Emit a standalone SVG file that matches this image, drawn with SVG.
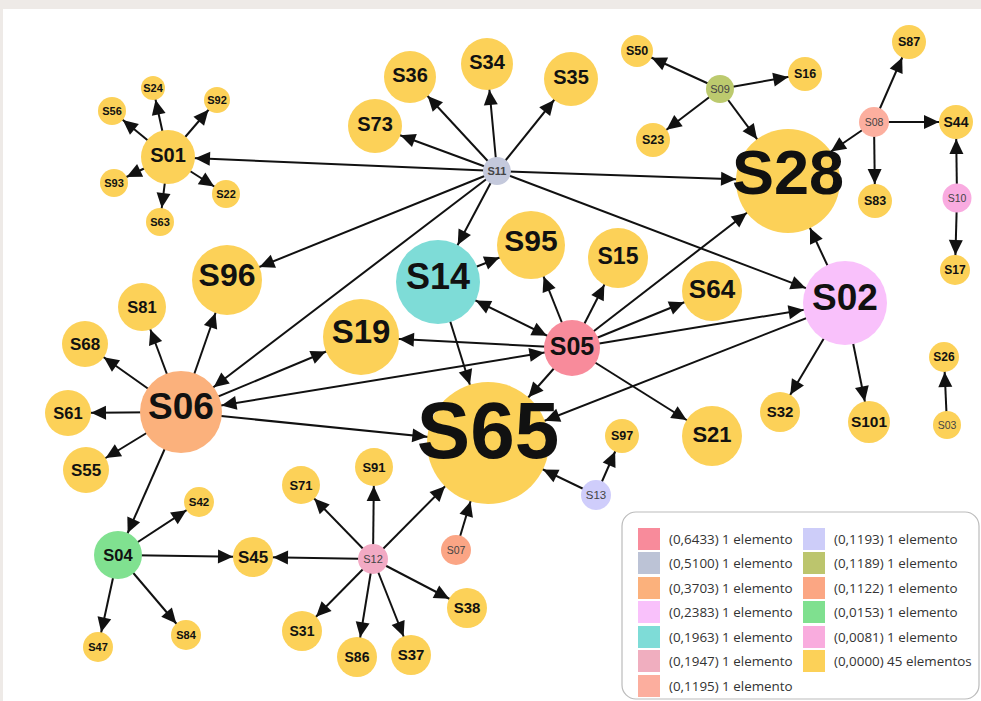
<svg xmlns="http://www.w3.org/2000/svg" width="981" height="701" viewBox="0 0 981 701">
<style>
.e{stroke:#111;stroke-width:2;fill:none}
.y{fill:#fcd158}
.t{font-family:"Liberation Sans",Arial,sans-serif;font-weight:bold;fill:#111;text-anchor:middle}
.s{font-family:"Liberation Sans",Arial,sans-serif;fill:#444;text-anchor:middle}
.lg{font-family:"Open Sans","Noto Sans",sans-serif;font-size:13.4px;fill:#333}
</style>
<defs>
<path id="ah" d="M0,-7L15,0L0,7z" fill="#111"/>
<marker id="a12" markerUnits="userSpaceOnUse" orient="auto-start-reverse" refX="27" refY="0" markerWidth="10" markerHeight="10" overflow="visible"><use href="#ah"/></marker>
<marker id="a13" markerUnits="userSpaceOnUse" orient="auto-start-reverse" refX="28" refY="0" markerWidth="10" markerHeight="10" overflow="visible"><use href="#ah"/></marker>
<marker id="a14" markerUnits="userSpaceOnUse" orient="auto-start-reverse" refX="29" refY="0" markerWidth="10" markerHeight="10" overflow="visible"><use href="#ah"/></marker>
<marker id="a15" markerUnits="userSpaceOnUse" orient="auto-start-reverse" refX="30" refY="0" markerWidth="10" markerHeight="10" overflow="visible"><use href="#ah"/></marker>
<marker id="a16" markerUnits="userSpaceOnUse" orient="auto-start-reverse" refX="31" refY="0" markerWidth="10" markerHeight="10" overflow="visible"><use href="#ah"/></marker>
<marker id="a17" markerUnits="userSpaceOnUse" orient="auto-start-reverse" refX="32" refY="0" markerWidth="10" markerHeight="10" overflow="visible"><use href="#ah"/></marker>
<marker id="a19" markerUnits="userSpaceOnUse" orient="auto-start-reverse" refX="34" refY="0" markerWidth="10" markerHeight="10" overflow="visible"><use href="#ah"/></marker>
<marker id="a20" markerUnits="userSpaceOnUse" orient="auto-start-reverse" refX="35" refY="0" markerWidth="10" markerHeight="10" overflow="visible"><use href="#ah"/></marker>
<marker id="a21" markerUnits="userSpaceOnUse" orient="auto-start-reverse" refX="36" refY="0" markerWidth="10" markerHeight="10" overflow="visible"><use href="#ah"/></marker>
<marker id="a23" markerUnits="userSpaceOnUse" orient="auto-start-reverse" refX="38" refY="0" markerWidth="10" markerHeight="10" overflow="visible"><use href="#ah"/></marker>
<marker id="a24" markerUnits="userSpaceOnUse" orient="auto-start-reverse" refX="39" refY="0" markerWidth="10" markerHeight="10" overflow="visible"><use href="#ah"/></marker>
<marker id="a26" markerUnits="userSpaceOnUse" orient="auto-start-reverse" refX="41" refY="0" markerWidth="10" markerHeight="10" overflow="visible"><use href="#ah"/></marker>
<marker id="a27" markerUnits="userSpaceOnUse" orient="auto-start-reverse" refX="42" refY="0" markerWidth="10" markerHeight="10" overflow="visible"><use href="#ah"/></marker>
<marker id="a28" markerUnits="userSpaceOnUse" orient="auto-start-reverse" refX="43" refY="0" markerWidth="10" markerHeight="10" overflow="visible"><use href="#ah"/></marker>
<marker id="a30" markerUnits="userSpaceOnUse" orient="auto-start-reverse" refX="45" refY="0" markerWidth="10" markerHeight="10" overflow="visible"><use href="#ah"/></marker>
<marker id="a34" markerUnits="userSpaceOnUse" orient="auto-start-reverse" refX="49" refY="0" markerWidth="10" markerHeight="10" overflow="visible"><use href="#ah"/></marker>
<marker id="a35" markerUnits="userSpaceOnUse" orient="auto-start-reverse" refX="50" refY="0" markerWidth="10" markerHeight="10" overflow="visible"><use href="#ah"/></marker>
<marker id="a38" markerUnits="userSpaceOnUse" orient="auto-start-reverse" refX="53" refY="0" markerWidth="10" markerHeight="10" overflow="visible"><use href="#ah"/></marker>
<marker id="a41" markerUnits="userSpaceOnUse" orient="auto-start-reverse" refX="56" refY="0" markerWidth="10" markerHeight="10" overflow="visible"><use href="#ah"/></marker>
<marker id="a42" markerUnits="userSpaceOnUse" orient="auto-start-reverse" refX="57" refY="0" markerWidth="10" markerHeight="10" overflow="visible"><use href="#ah"/></marker>
<marker id="a52" markerUnits="userSpaceOnUse" orient="auto-start-reverse" refX="67" refY="0" markerWidth="10" markerHeight="10" overflow="visible"><use href="#ah"/></marker>
<marker id="a61" markerUnits="userSpaceOnUse" orient="auto-start-reverse" refX="76" refY="0" markerWidth="10" markerHeight="10" overflow="visible"><use href="#ah"/></marker>
</defs>
<rect x="0" y="0" width="981" height="701" fill="#eeeae7"/>
<rect x="3" y="9" width="978" height="692" fill="#fff"/>
<g id="connectors">
<line class="e" x1="168" y1="157" x2="112" y2="111" marker-end="url(#a14)"/>
<line class="e" x1="168" y1="157" x2="153" y2="88" marker-end="url(#a12)"/>
<line class="e" x1="168" y1="157" x2="217" y2="100" marker-end="url(#a13)"/>
<line class="e" x1="168" y1="157" x2="114" y2="183" marker-end="url(#a14)"/>
<line class="e" x1="168" y1="157" x2="226" y2="194" marker-end="url(#a14)"/>
<line class="e" x1="168" y1="157" x2="160" y2="222" marker-end="url(#a14)"/>
<line class="e" x1="497" y1="171" x2="168" y2="157" marker-end="url(#a27)"/>
<line class="e" x1="497" y1="171" x2="375" y2="126" marker-end="url(#a27)"/>
<line class="e" x1="497" y1="171" x2="410" y2="77" marker-end="url(#a26)"/>
<line class="e" x1="497" y1="171" x2="487" y2="64" marker-end="url(#a26)"/>
<line class="e" x1="497" y1="171" x2="571" y2="79" marker-end="url(#a27)"/>
<line class="e" x1="497" y1="171" x2="788" y2="181" marker-end="url(#a52)"/>
<line class="e" x1="497" y1="171" x2="227" y2="280" marker-end="url(#a35)"/>
<line class="e" x1="497" y1="171" x2="181" y2="412" marker-end="url(#a41)"/>
<line class="e" x1="497" y1="171" x2="438" y2="282" marker-end="url(#a42)"/>
<line class="e" x1="497" y1="171" x2="845" y2="303" marker-end="url(#a42)"/>
<line class="e" x1="720" y1="89" x2="637" y2="51" marker-end="url(#a16)"/>
<line class="e" x1="720" y1="89" x2="805" y2="74" marker-end="url(#a17)"/>
<line class="e" x1="720" y1="89" x2="653" y2="140" marker-end="url(#a17)"/>
<line class="e" x1="720" y1="89" x2="788" y2="181" marker-end="url(#a52)"/>
<line class="e" x1="874" y1="122" x2="909" y2="42" marker-end="url(#a17)"/>
<line class="e" x1="874" y1="122" x2="956" y2="122" marker-end="url(#a17)"/>
<line class="e" x1="874" y1="122" x2="875" y2="201" marker-end="url(#a17)"/>
<line class="e" x1="874" y1="122" x2="788" y2="181" marker-end="url(#a52)"/>
<line class="e" x1="957" y1="198" x2="956" y2="122" marker-end="url(#a17)"/>
<line class="e" x1="957" y1="198" x2="955" y2="270" marker-end="url(#a15)"/>
<line class="e" x1="947" y1="425" x2="944" y2="357" marker-end="url(#a15)"/>
<line class="e" x1="845" y1="303" x2="788" y2="181" marker-end="url(#a52)"/>
<line class="e" x1="845" y1="303" x2="488" y2="443" marker-end="url(#a61)"/>
<line class="e" x1="845" y1="303" x2="780" y2="412" marker-end="url(#a20)"/>
<line class="e" x1="845" y1="303" x2="869" y2="422" marker-end="url(#a21)"/>
<line class="e" x1="572" y1="348" x2="531" y2="245" marker-end="url(#a34)"/>
<line class="e" x1="572" y1="348" x2="618" y2="258" marker-end="url(#a30)"/>
<line class="e" x1="572" y1="348" x2="712" y2="291" marker-end="url(#a30)"/>
<line class="e" x1="572" y1="348" x2="788" y2="181" marker-end="url(#a52)"/>
<line class="e" x1="572" y1="348" x2="845" y2="303" marker-end="url(#a42)"/>
<line class="e" x1="572" y1="348" x2="361" y2="337" marker-end="url(#a38)"/>
<line class="e" x1="572" y1="348" x2="181" y2="412" marker-start="url(#a28)" marker-end="url(#a41)"/>
<line class="e" x1="572" y1="348" x2="438" y2="282" marker-start="url(#a28)" marker-end="url(#a42)"/>
<line class="e" x1="572" y1="348" x2="488" y2="443" marker-end="url(#a61)"/>
<line class="e" x1="572" y1="348" x2="712" y2="436" marker-end="url(#a30)"/>
<line class="e" x1="438" y1="282" x2="531" y2="245" marker-end="url(#a34)"/>
<line class="e" x1="438" y1="282" x2="488" y2="443" marker-end="url(#a61)"/>
<line class="e" x1="181" y1="412" x2="361" y2="337" marker-end="url(#a38)"/>
<line class="e" x1="181" y1="412" x2="488" y2="443" marker-end="url(#a61)"/>
<line class="e" x1="181" y1="412" x2="227" y2="280" marker-end="url(#a35)"/>
<line class="e" x1="181" y1="412" x2="142" y2="307" marker-end="url(#a24)"/>
<line class="e" x1="181" y1="412" x2="85" y2="344" marker-end="url(#a23)"/>
<line class="e" x1="181" y1="412" x2="68" y2="413" marker-end="url(#a23)"/>
<line class="e" x1="181" y1="412" x2="86" y2="470" marker-end="url(#a23)"/>
<line class="e" x1="181" y1="412" x2="118" y2="555" marker-end="url(#a24)"/>
<line class="e" x1="118" y1="555" x2="199" y2="502" marker-end="url(#a15)"/>
<line class="e" x1="118" y1="555" x2="253" y2="557" marker-end="url(#a20)"/>
<line class="e" x1="118" y1="555" x2="98" y2="647" marker-end="url(#a15)"/>
<line class="e" x1="118" y1="555" x2="186" y2="635" marker-end="url(#a15)"/>
<line class="e" x1="373" y1="559" x2="301" y2="485" marker-end="url(#a19)"/>
<line class="e" x1="373" y1="559" x2="374" y2="467" marker-end="url(#a19)"/>
<line class="e" x1="373" y1="559" x2="488" y2="443" marker-end="url(#a61)"/>
<line class="e" x1="373" y1="559" x2="253" y2="557" marker-end="url(#a20)"/>
<line class="e" x1="373" y1="559" x2="302" y2="631" marker-end="url(#a20)"/>
<line class="e" x1="373" y1="559" x2="357" y2="657" marker-end="url(#a20)"/>
<line class="e" x1="373" y1="559" x2="411" y2="655" marker-end="url(#a20)"/>
<line class="e" x1="373" y1="559" x2="467" y2="608" marker-end="url(#a20)"/>
<line class="e" x1="456" y1="550" x2="488" y2="443" marker-end="url(#a61)"/>
<line class="e" x1="596" y1="495" x2="622" y2="436" marker-end="url(#a17)"/>
<line class="e" x1="596" y1="495" x2="488" y2="443" marker-end="url(#a61)"/>
</g>
<g id="S01"><circle class="y" cx="168" cy="157" r="27"/><text class="t" x="168" y="162" font-size="20">S01</text></g>
<g id="S24"><circle class="y" cx="153" cy="88" r="12"/><text class="t" x="153" y="92" font-size="11">S24</text></g>
<g id="S92"><circle class="y" cx="217" cy="100" r="13"/><text class="t" x="217" y="104" font-size="11">S92</text></g>
<g id="S56"><circle class="y" cx="112" cy="111" r="14"/><text class="t" x="112" y="115" font-size="11">S56</text></g>
<g id="S93"><circle class="y" cx="114" cy="183" r="14"/><text class="t" x="114" y="187" font-size="11">S93</text></g>
<g id="S22"><circle class="y" cx="226" cy="194" r="14"/><text class="t" x="226" y="198" font-size="11">S22</text></g>
<g id="S63"><circle class="y" cx="160" cy="222" r="14"/><text class="t" x="160" y="226" font-size="11">S63</text></g>
<g id="S36"><circle class="y" cx="410" cy="77" r="26"/><text class="t" x="410" y="82" font-size="20">S36</text></g>
<g id="S34"><circle class="y" cx="487" cy="64" r="26"/><text class="t" x="487" y="69" font-size="20">S34</text></g>
<g id="S35"><circle class="y" cx="571" cy="79" r="27"/><text class="t" x="571" y="84" font-size="20">S35</text></g>
<g id="S73"><circle class="y" cx="375" cy="126" r="27"/><text class="t" x="375" y="131" font-size="20">S73</text></g>
<g id="S11"><circle cx="497" cy="171" r="14" fill="#c4c9dc"/><text class="s" x="497" y="175" font-size="11" font-weight="bold">S11</text></g>
<g id="S50"><circle class="y" cx="637" cy="51" r="16"/><text class="t" x="637" y="55" font-size="12.5">S50</text></g>
<g id="S09"><circle cx="720" cy="89" r="14" fill="#bcca6e"/><text class="s" x="720" y="93" font-size="11">S09</text></g>
<g id="S16"><circle class="y" cx="805" cy="74" r="17"/><text class="t" x="805" y="78" font-size="12.5">S16</text></g>
<g id="S23"><circle class="y" cx="653" cy="140" r="17"/><text class="t" x="653" y="144" font-size="12.5">S23</text></g>
<g id="S28"><circle class="y" cx="788" cy="181" r="52"/><text class="t" x="788" y="194" font-size="63">S28</text></g>
<g id="S87"><circle class="y" cx="909" cy="42" r="17"/><text class="t" x="909" y="46" font-size="12.5">S87</text></g>
<g id="S08"><circle cx="874" cy="122" r="15" fill="#fcaf9f"/><text class="s" x="874" y="126" font-size="10.5">S08</text></g>
<g id="S44"><circle class="y" cx="956" cy="122" r="17"/><text class="t" x="956" y="127" font-size="14">S44</text></g>
<g id="S83"><circle class="y" cx="875" cy="201" r="17"/><text class="t" x="875" y="205" font-size="12.5">S83</text></g>
<g id="S10"><circle cx="957" cy="198" r="14.5" fill="#f9abe0"/><text class="s" x="957" y="202" font-size="10.5">S10</text></g>
<g id="S17"><circle class="y" cx="955" cy="270" r="15"/><text class="t" x="955" y="274" font-size="12">S17</text></g>
<g id="S15"><circle class="y" cx="618" cy="258" r="30"/><text class="t" x="618" y="264" font-size="23">S15</text></g>
<g id="S64"><circle class="y" cx="712" cy="291" r="30"/><text class="t" x="712" y="298" font-size="26">S64</text></g>
<g id="S02"><circle cx="845" cy="303" r="42" fill="#f9c1fb"/><text class="t" x="845" y="310" font-size="37">S02</text></g>
<g id="S14"><circle cx="438" cy="282" r="42" fill="#7edcd7"/><text class="t" x="438" y="289" font-size="36">S14</text></g>
<g id="S95"><circle class="y" cx="531" cy="245" r="34"/><text class="t" x="531" y="251" font-size="30">S95</text></g>
<g id="S19"><circle class="y" cx="361" cy="337" r="38"/><text class="t" x="361" y="343" font-size="33">S19</text></g>
<g id="S05"><circle cx="572" cy="348" r="28" fill="#f88b9b"/><text class="t" x="572" y="355" font-size="25" font-weight="normal">S05</text></g>
<g id="S65"><circle class="y" cx="488" cy="443" r="61"/><text class="t" x="488" y="458" font-size="80">S65</text></g>
<g id="S97"><circle class="y" cx="622" cy="436" r="17"/><text class="t" x="622" y="440" font-size="12.5">S97</text></g>
<g id="S21"><circle class="y" cx="712" cy="436" r="30"/><text class="t" x="712" y="442" font-size="22">S21</text></g>
<g id="S32"><circle class="y" cx="780" cy="412" r="20"/><text class="t" x="780" y="417" font-size="15">S32</text></g>
<g id="S101"><circle class="y" cx="869" cy="422" r="21"/><text class="t" x="869" y="427" font-size="15.5">S101</text></g>
<g id="S03"><circle class="y" cx="947" cy="425" r="14"/><text class="s" x="947" y="429" font-size="10.5">S03</text></g>
<g id="S26"><circle class="y" cx="944" cy="357" r="15"/><text class="t" x="944" y="361" font-size="12">S26</text></g>
<g id="S13"><circle cx="596" cy="495" r="15" fill="#cfcdfb"/><text class="s" x="596" y="499" font-size="11.5">S13</text></g>
<g id="S96"><circle class="y" cx="227" cy="280" r="35"/><text class="t" x="227" y="286" font-size="32">S96</text></g>
<g id="S81"><circle class="y" cx="142" cy="307" r="24"/><text class="t" x="142" y="313" font-size="16.5">S81</text></g>
<g id="S68"><circle class="y" cx="85" cy="344" r="23"/><text class="t" x="85" y="350" font-size="17">S68</text></g>
<g id="S61"><circle class="y" cx="68" cy="413" r="23"/><text class="t" x="68" y="419" font-size="16.5">S61</text></g>
<g id="S06"><circle cx="181" cy="412" r="41" fill="#fbb17c"/><text class="t" x="181" y="419" font-size="37">S06</text></g>
<g id="S55"><circle class="y" cx="86" cy="470" r="23"/><text class="t" x="86" y="476" font-size="17">S55</text></g>
<g id="S04"><circle cx="118" cy="555" r="24" fill="#80e190"/><text class="t" x="118" y="561" font-size="16.5" font-weight="normal">S04</text></g>
<g id="S42"><circle class="y" cx="199" cy="502" r="15"/><text class="t" x="199" y="506" font-size="11.5">S42</text></g>
<g id="S45"><circle class="y" cx="253" cy="557" r="20"/><text class="t" x="253" y="563" font-size="17">S45</text></g>
<g id="S47"><circle class="y" cx="98" cy="647" r="15"/><text class="t" x="98" y="651" font-size="11">S47</text></g>
<g id="S84"><circle class="y" cx="186" cy="635" r="15"/><text class="t" x="186" y="639" font-size="11">S84</text></g>
<g id="S71"><circle class="y" cx="301" cy="485" r="19"/><text class="t" x="301" y="490" font-size="13">S71</text></g>
<g id="S91"><circle class="y" cx="374" cy="467" r="19"/><text class="t" x="374" y="472" font-size="13">S91</text></g>
<g id="S12"><circle cx="373" cy="559" r="15" fill="#f2aac4"/><text class="s" x="373" y="563" font-size="11">S12</text></g>
<g id="S07"><circle cx="456" cy="550" r="15" fill="#fba585"/><text class="s" x="456" y="554" font-size="10.5">S07</text></g>
<g id="S38"><circle class="y" cx="467" cy="608" r="20"/><text class="t" x="467" y="613" font-size="15">S38</text></g>
<g id="S31"><circle class="y" cx="302" cy="631" r="20"/><text class="t" x="302" y="636" font-size="14">S31</text></g>
<g id="S86"><circle class="y" cx="357" cy="657" r="20"/><text class="t" x="357" y="662" font-size="14">S86</text></g>
<g id="S37"><circle class="y" cx="411" cy="655" r="20"/><text class="t" x="411" y="660" font-size="15">S37</text></g>
<g id="legend">
<rect x="622" y="512" width="357" height="187" rx="14" fill="#fff" stroke="#bbb" stroke-width="1.2"/>
<rect x="638" y="528" width="22" height="22" fill="#f88b9b"/><text class="lg" x="669" y="544">(0,6433) 1 elemento</text>
<rect x="638" y="552" width="22" height="22" fill="#bcc3d6"/><text class="lg" x="669" y="568">(0,5100) 1 elemento</text>
<rect x="638" y="577" width="22" height="22" fill="#fbb17c"/><text class="lg" x="669" y="593">(0,3703) 1 elemento</text>
<rect x="638" y="601" width="22" height="22" fill="#f9c1fb"/><text class="lg" x="669" y="617">(0,2383) 1 elemento</text>
<rect x="638" y="626" width="22" height="22" fill="#7edcd7"/><text class="lg" x="669" y="642">(0,1963) 1 elemento</text>
<rect x="638" y="650" width="22" height="22" fill="#f0aebf"/><text class="lg" x="669" y="666">(0,1947) 1 elemento</text>
<rect x="638" y="675" width="22" height="22" fill="#fcae9e"/><text class="lg" x="669" y="691">(0,1195) 1 elemento</text>
<rect x="803" y="528" width="22" height="22" fill="#cdcdf9"/><text class="lg" x="834" y="544">(0,1193) 1 elemento</text>
<rect x="803" y="552" width="22" height="22" fill="#bcc56d"/><text class="lg" x="834" y="568">(0,1189) 1 elemento</text>
<rect x="803" y="577" width="22" height="22" fill="#fba683"/><text class="lg" x="834" y="593">(0,1122) 1 elemento</text>
<rect x="803" y="601" width="22" height="22" fill="#7fe08f"/><text class="lg" x="834" y="617">(0,0153) 1 elemento</text>
<rect x="803" y="626" width="22" height="22" fill="#f9acde"/><text class="lg" x="834" y="642">(0,0081) 1 elemento</text>
<rect x="803" y="650" width="22" height="22" fill="#fcd158"/><text class="lg" x="834" y="666">(0,0000) 45 elementos</text>
</g>
</svg>
